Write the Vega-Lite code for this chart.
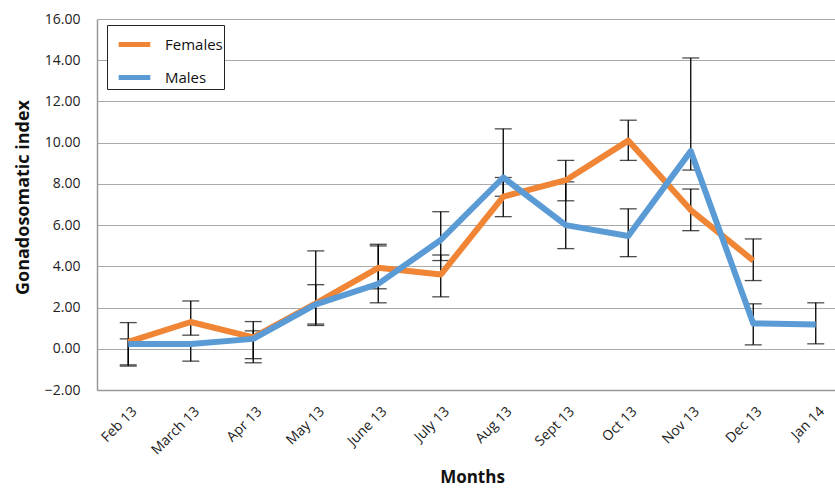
{
  "$schema": "https://vega.github.io/schema/vega-lite/v6.json",
  "autosize": {"type": "none"},
  "padding": {"left": 97, "top": 19, "right": 0, "bottom": 98},
  "width": 750,
  "height": 371,
  "background": "white",
  "config": {
    "font": "Open Sans",
    "view": {"stroke": null},
    "axis": {"labelFont": "Open Sans", "titleFont": "Open Sans", "labelColor": "#222", "titleColor": "#111"}
  },
  "data": {
    "values": [
      {"month": "Feb 13", "series": "Females", "value": 0.33, "low": -0.78, "high": 1.27},
      {"month": "March 13", "series": "Females", "value": 1.3, "low": 0.66, "high": 2.32},
      {"month": "Apr 13", "series": "Females", "value": 0.55, "low": -0.48, "high": 1.32},
      {"month": "May 13", "series": "Females", "value": 2.2, "low": 1.2, "high": 3.11},
      {"month": "June 13", "series": "Females", "value": 3.93, "low": 2.91, "high": 4.99},
      {"month": "July 13", "series": "Females", "value": 3.6, "low": 2.52, "high": 4.55},
      {"month": "Aug 13", "series": "Females", "value": 7.38, "low": 6.41, "high": 8.31},
      {"month": "Sept 13", "series": "Females", "value": 8.18, "low": 7.18, "high": 9.14},
      {"month": "Oct 13", "series": "Females", "value": 10.1, "low": 9.14, "high": 11.09},
      {"month": "Nov 13", "series": "Females", "value": 6.73, "low": 5.73, "high": 7.75},
      {"month": "Dec 13", "series": "Females", "value": 4.28, "low": 3.31, "high": 5.33},
      {"month": "Feb 13", "series": "Males", "value": 0.23, "low": -0.84, "high": 0.48},
      {"month": "March 13", "series": "Males", "value": 0.23, "low": -0.6, "high": 0.3},
      {"month": "Apr 13", "series": "Males", "value": 0.48, "low": -0.68, "high": 0.87},
      {"month": "May 13", "series": "Males", "value": 2.15, "low": 1.13, "high": 4.75},
      {"month": "June 13", "series": "Males", "value": 3.15, "low": 2.23, "high": 5.07},
      {"month": "July 13", "series": "Males", "value": 5.28, "low": 4.28, "high": 6.65},
      {"month": "Aug 13", "series": "Males", "value": 8.31, "low": 7.4, "high": 10.67},
      {"month": "Sept 13", "series": "Males", "value": 6.0, "low": 4.86, "high": 8.1},
      {"month": "Oct 13", "series": "Males", "value": 5.47, "low": 4.47, "high": 6.79},
      {"month": "Nov 13", "series": "Males", "value": 9.59, "low": 8.67, "high": 14.11},
      {"month": "Dec 13", "series": "Males", "value": 1.23, "low": 0.19, "high": 2.18},
      {"month": "Jan 14", "series": "Males", "value": 1.18, "low": 0.24, "high": 2.23}
    ]
  },
  "encoding": {
    "x": {
      "field": "month",
      "type": "ordinal",
      "sort": ["Feb 13", "March 13", "Apr 13", "May 13", "June 13", "July 13", "Aug 13", "Sept 13", "Oct 13", "Nov 13", "Dec 13", "Jan 14"],
      "scale": {"type": "point", "padding": 0.5},
      "axis": {
        "title": "Months",
        "titleFontSize": 17,
        "titleFontWeight": "bold",
        "titlePadding": 12,
        "labelAngle": -45,
        "labelAlign": "right",
        "labelBaseline": "middle",
        "labelFontSize": 14,
        "labelPadding": 19,
        "labelOffset": 6,
        "ticks": false,
        "domainColor": "#999",
        "domainWidth": 1.5,
        "grid": false
      }
    }
  },
  "layer": [
    {
      "mark": {"type": "rule", "color": "black", "strokeWidth": 1.3},
      "encoding": {
        "y": {"field": "low", "type": "quantitative"},
        "y2": {"field": "high"}
      }
    },
    {
      "mark": {"type": "tick", "color": "black", "thickness": 1.3, "size": 17, "orient": "horizontal"},
      "encoding": {"y": {"field": "low", "type": "quantitative"}}
    },
    {
      "mark": {"type": "tick", "color": "black", "thickness": 1.3, "size": 17, "orient": "horizontal"},
      "encoding": {"y": {"field": "high", "type": "quantitative"}}
    },
    {
      "mark": {"type": "line", "strokeWidth": 6, "strokeJoin": "round", "strokeCap": "butt"},
      "encoding": {
        "y": {
          "field": "value",
          "type": "quantitative",
          "scale": {"domain": [-2, 16], "nice": false},
          "axis": {
            "title": "Gonadosomatic index",
            "titleFontSize": 18,
            "titleFontWeight": "bold",
            "titlePadding": 12,
            "titleY": 178,
            "values": [-2, 0, 2, 4, 6, 8, 10, 12, 14, 16],
            "format": ".2f",
            "labelFontSize": 14,
            "labelPadding": 17,
            "ticks": false,
            "domainColor": "#999",
            "domainWidth": 1.5,
            "gridColor": "#aaa",
            "gridWidth": 1.2
          }
        },
        "color": {
          "field": "series",
          "type": "nominal",
          "scale": {"domain": ["Females", "Males"], "range": ["#EF8535", "#5B9BD5"]},
          "legend": {
            "title": null,
            "orient": "none",
            "legendX": 10,
            "legendY": 6,
            "symbolType": "stroke",
            "symbolSize": 1000,
            "symbolStrokeWidth": 5,
            "symbolOffset": 8,
            "labelFontSize": 15,
            "labelFont": "Open Sans",
            "labelColor": "#111",
            "labelOffset": 12,
            "labelLimit": 200,
            "rowPadding": 4,
            "strokeColor": "#222",
            "padding": 1,
            "fillColor": "white"
          }
        }
      }
    }
  ]
}
